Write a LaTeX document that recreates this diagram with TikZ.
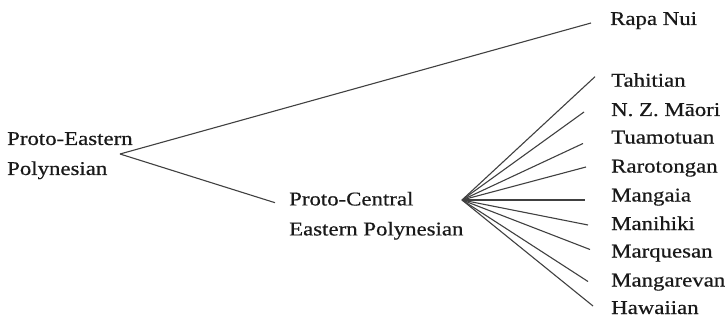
\documentclass[tikz,border=0pt]{standalone}
\usepackage{fontspec}
\setmainfont{Liberation Serif}[FakeBold=0.5]
\newcommand{\wide}[1]{\scalebox{1.17}[1]{#1}}

\begin{document}
\begin{tikzpicture}[x=1pt,y=-1pt,
    every node/.style={inner sep=0pt,text=black!90,font=\fontsize{19.5}{30}\selectfont},
    lang/.style={anchor=base west},
    proto/.style={anchor=north west,align=left},
    branch/.style={line width=1.1pt,draw=black!75}]
      \useasboundingbox (0,0) rectangle (728,326);
      \node[proto] (pep) at (7,132) {\wide{Proto-Eastern}\\\wide{Polynesian}};
      \node[proto] (pcep) at (289,191.7) {\wide{Proto-Central}\\\wide{Eastern Polynesian}};
      \node[lang] (rapa) at (610,25) {\wide{Rapa Nui}};
      \node[lang] (tah) at (611,86.7) {\wide{Tahitian}};
      \node[lang] (nzm) at (611,116) {\wide{N. Z. M\=aori}};
      \node[lang] (tua) at (611,143.5) {\wide{Tuamotuan}};
      \node[lang] (rar) at (611,172.5) {\wide{Rarotongan}};
      \node[lang] (mga) at (611,201.5) {\wide{Mangaia}};
      \node[lang] (mhk) at (611,230) {\wide{Manihiki}};
      \node[lang] (mrq) at (611,257.5) {\wide{Marquesan}};
      \node[lang] (mgr) at (611,286.5) {\wide{Mangarevan}};
      \node[lang] (haw) at (611,314) {\wide{Hawaiian}};
      \coordinate (pev) at (120,154);
      \coordinate (pcev) at (462,200);
      \coordinate (pcin) at ([shift={(-14,11)}]pcep.north west);
      \draw[branch] (pev) -- ([shift={(-19,-2)}]rapa.base west);
      \draw[branch] (pev) -- (pcin);
      \draw[branch] (pcev) -- ([shift={(-16,-10)}]tah.base west);
      \draw[branch] (pcev) -- ([shift={(-27,-4)}]nzm.base west);
      \draw[branch] (pcev) -- ([shift={(-28,0)}]tua.base west);
      \draw[branch] (pcev) -- ([shift={(-25,-5.5)}]rar.base west);
      \draw[branch] (pcev) -- ([shift={(-26,-1.5)}]mga.base west);
      \draw[branch] (pcev) -- ([shift={(-23,-5)}]mhk.base west);
      \draw[branch] (pcev) -- ([shift={(-21,-8)}]mrq.base west);
      \draw[branch] (pcev) -- ([shift={(-23,-5)}]mgr.base west);
      \draw[branch] (pcev) -- ([shift={(-18,-8)}]haw.base west);
    \end{tikzpicture}
\end{document}
